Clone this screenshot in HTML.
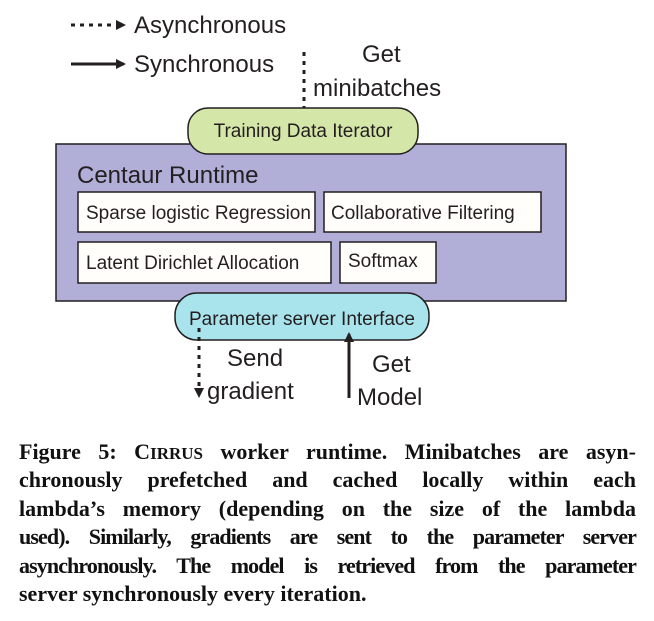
<!DOCTYPE html>
<html><head><meta charset="utf-8"><style>
body{margin:0;width:654px;height:621px;background:#fff;position:relative;overflow:hidden}
.l{position:absolute;left:19px;width:617px;font:bold 22px "Liberation Serif",serif;color:#111;text-align:justify;text-align-last:justify;white-space:nowrap;line-height:22px}
.l.last{text-align-last:left}
.sc{font-size:17px}
</style></head><body>
<svg width="654" height="425" style="position:absolute;left:0;top:0" font-family="Liberation Sans, sans-serif" fill="#231f20">
<defs><marker id="a" markerWidth="10" markerHeight="10" refX="8" refY="5" orient="auto" markerUnits="userSpaceOnUse"><path d="M0,0 L10,5 L0,10 z" fill="#231f20"/></marker></defs>
<line x1="71" y1="25" x2="124" y2="25" stroke="#231f20" stroke-width="3" stroke-dasharray="4,5" marker-end="url(#a)"/>
<text x="134" y="33" font-size="24">Asynchronous</text>
<line x1="71" y1="64" x2="124" y2="64" stroke="#231f20" stroke-width="3" marker-end="url(#a)"/>
<text x="134" y="72" font-size="24">Synchronous</text>
<line x1="304" y1="52" x2="304" y2="116" stroke="#231f20" stroke-width="3" stroke-dasharray="4,5" marker-end="url(#a)"/>
<text x="362" y="62" font-size="24">Get</text>
<text x="313" y="96" font-size="24">minibatches</text>
<rect x="56" y="144" width="510" height="157" fill="#b1aed8" stroke="#231f20" stroke-width="1.5"/>
<rect x="188" y="108" width="230" height="46" rx="20" fill="#d4e6a8" stroke="#231f20" stroke-width="1.5"/>
<text x="303" y="137" font-size="19" text-anchor="middle">Training Data Iterator</text>
<text x="77" y="183" font-size="24">Centaur Runtime</text>
<g fill="#fffefa" stroke="#231f20" stroke-width="1.5">
<rect x="78" y="192" width="237" height="40"/><rect x="324" y="192" width="217" height="40"/>
<rect x="78" y="242" width="253" height="41"/><rect x="340" y="242" width="96" height="41"/></g>
<g font-size="19"><text x="86" y="219">Sparse logistic Regression</text>
<text x="331" y="219">Collaborative Filtering</text>
<text x="86" y="269">Latent Dirichlet Allocation</text>
<text x="348" y="267">Softmax</text></g>
<rect x="175" y="293" width="254" height="47" rx="22" fill="#a9e3ec" stroke="#231f20" stroke-width="1.5"/>
<text x="302" y="325" font-size="19" text-anchor="middle">Parameter server Interface</text>
<line x1="199" y1="328" x2="199" y2="396" stroke="#231f20" stroke-width="3" stroke-dasharray="4,5" marker-end="url(#a)"/>
<line x1="349" y1="398" x2="349" y2="334" stroke="#231f20" stroke-width="3" marker-end="url(#a)"/>
<text x="227" y="366" font-size="24">Send</text>
<text x="207" y="399" font-size="24">gradient</text>
<text x="372" y="372" font-size="24">Get</text>
<text x="357" y="405" font-size="24">Model</text>
</svg>
<div class="l" style="top:441px">Figure 5: C<span class="sc">IRRUS</span> worker runtime. Minibatches are asyn-</div>
<div class="l" style="top:469px">chronously prefetched and cached locally within each</div>
<div class="l" style="top:498px">lambda’s memory (depending on the size of the lambda</div>
<div class="l" style="top:526px;letter-spacing:-0.9px">used). Similarly, gradients are sent to the parameter server</div>
<div class="l" style="top:555px;letter-spacing:-0.9px">asynchronously. The model is retrieved from the parameter</div>
<div class="l last" style="top:583px">server synchronously every iteration.</div>
</body></html>
